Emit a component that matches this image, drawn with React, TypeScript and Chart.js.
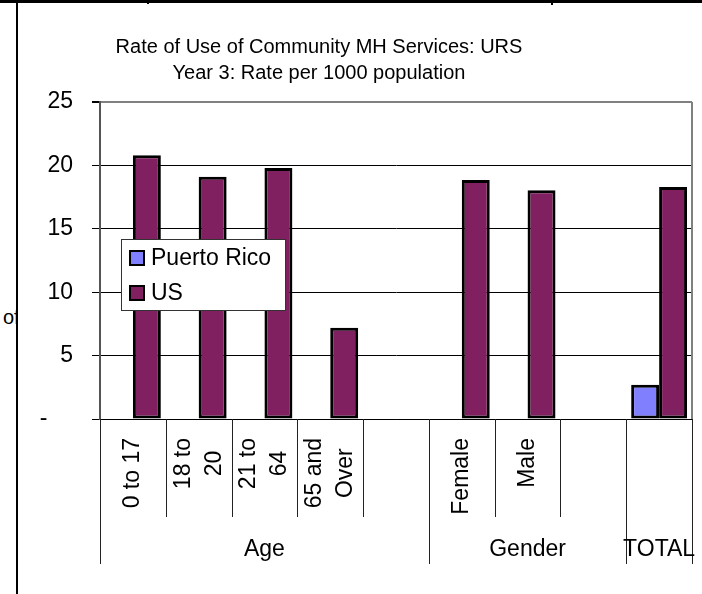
import React, { useEffect, useRef } from 'react';
import { Chart, registerables } from 'chart.js';

Chart.register(...registerables);

// ---- data ----
const categories = ['0 to 17', '18 to 20', '21 to 64', '65 and Over', '', 'Female', 'Male', '', 'TOTAL'];
const categoryLines: string[][] = [['0 to 17'], ['18 to', '20'], ['21 to', '64'], ['65 and', 'Over'], [], ['Female'], ['Male'], [], []];
const groupLabels = ['Age', 'Gender', 'TOTAL'];
const groupSizes = [5, 3, 1];
const seriesNames = ['Puerto Rico', 'US'];
const puertoRico = [null, null, null, null, null, null, null, null, 2.7];
const us = [20.8, 19.1, 19.8, 7.2, null, 18.85, 18.05, null, 18.3];
const yTickValues = [0, 5, 10, 15, 20, 25];
const titleLines = ['Rate of Use of Community MH Services: URS', 'Year 3: Rate per 1000 population'];

const FONT = '"Liberation Sans", Arial, sans-serif';
const PR_COLOR = '#8080FF';
const US_COLOR = '#802060';

const decorPlugin = {
  id: 'decor',
  afterDraw(chart: any) {
    const ctx: CanvasRenderingContext2D = chart.ctx;
    const area = chart.chartArea;
    const xs = chart.scales.x;
    const n = categories.length;
    const w = (area.right - area.left) / n;

    ctx.save();
    // right border of plot area
    ctx.strokeStyle = '#808080';
    ctx.lineWidth = 2;
    ctx.beginPath();
    ctx.moveTo(area.right, area.top);
    ctx.lineTo(area.right, area.bottom);
    ctx.stroke();

    // separators below the axis
    const groupBounds = new Set<number>();
    let acc = 0;
    groupBounds.add(0);
    groupSizes.forEach((s) => { acc += s; groupBounds.add(acc); });
    ctx.strokeStyle = '#222';
    ctx.lineWidth = 1;
    for (let i = 0; i <= n; i++) {
      const x = Math.round(i < n ? xs.getPixelForValue(i) - w / 2 : xs.getPixelForValue(n - 1) + w / 2) + 0.5;
      const yEnd = groupBounds.has(i) ? area.bottom + 145 : area.bottom + 98;
      ctx.beginPath();
      ctx.moveTo(x, area.bottom);
      ctx.lineTo(x, yEnd);
      ctx.stroke();
    }

    // category labels (rotated)
    ctx.fillStyle = '#000';
    ctx.font = `23px ${FONT}`;
    categoryLines.forEach((lines, i) => {
      if (!lines.length) return;
      const cx = xs.getPixelForValue(i);
      const maxW = Math.max(...lines.map((l) => ctx.measureText(l).width));
      ctx.save();
      ctx.translate(cx, area.bottom + 19);
      ctx.rotate(-Math.PI / 2);
      ctx.textAlign = 'center';
      ctx.textBaseline = 'middle';
      lines.forEach((l, j) => {
        ctx.fillText(l, -maxW / 2, (j - (lines.length - 1) / 2) * 31);
      });
      ctx.restore();
    });

    // group labels
    ctx.textAlign = 'center';
    ctx.textBaseline = 'middle';
    let start = 0;
    groupLabels.forEach((g, gi) => {
      const end = start + groupSizes[gi] - 1;
      const cx = (xs.getPixelForValue(start) + xs.getPixelForValue(end)) / 2;
      ctx.fillText(g, cx, area.bottom + 131);
      start = end + 1;
    });

    // title
    ctx.font = `20px ${FONT}`;
    titleLines.forEach((t, i) => {
      ctx.fillText(t, 319, 47 + i * 26);
    });

    // legend
    const lx = area.left + 21;
    const ly = area.top + 137;
    ctx.fillStyle = '#fff';
    ctx.fillRect(lx, ly, 164, 71);
    ctx.strokeStyle = '#333';
    ctx.lineWidth = 1;
    ctx.strokeRect(lx + 0.5, ly + 0.5, 164, 71);
    const colors = [PR_COLOR, US_COLOR];
    ctx.font = `23px ${FONT}`;
    ctx.textAlign = 'left';
    seriesNames.forEach((name, i) => {
      const cy = ly + 19 + i * 35;
      ctx.fillStyle = colors[i];
      ctx.fillRect(lx + 8, cy - 8, 16, 16);
      ctx.strokeStyle = '#000';
      ctx.lineWidth = 2;
      ctx.strokeRect(lx + 9, cy - 7, 14, 14);
      ctx.fillStyle = '#000';
      ctx.fillText(name, lx + 30, cy + 1);
    });
    ctx.restore();
  },
};

export default function App() {
  const ref = useRef<HTMLCanvasElement | null>(null);

  useEffect(() => {
    if (!ref.current) return;
    const chart = new Chart(ref.current, {
      type: 'bar',
      data: {
        labels: categories,
        datasets: [
          {
            label: seriesNames[0],
            data: puertoRico as any,
            backgroundColor: PR_COLOR,
            borderColor: '#000',
            borderWidth: 3,
            borderSkipped: false,
            categoryPercentage: 0.85,
            barPercentage: 1,
          },
          {
            label: seriesNames[1],
            data: us as any,
            backgroundColor: US_COLOR,
            borderColor: '#000',
            borderWidth: 3,
            borderSkipped: false,
            categoryPercentage: 0.85,
            barPercentage: 1,
          },
        ],
      },
      options: {
        animation: false,
        responsive: true,
        maintainAspectRatio: false,
        layout: { padding: { top: 102, right: 10, left: 0, bottom: 0 } },
        plugins: {
          legend: { display: false },
          title: { display: false },
          tooltip: { enabled: false },
        },
        scales: {
          x: {
            grid: { display: false },
            border: { display: true, color: '#000', width: 1 },
            ticks: { display: false },
            afterFit: (s: any) => { s.height = 175; },
          },
          y: {
            min: 0,
            max: 25,
            afterBuildTicks: (s: any) => { s.ticks = yTickValues.map((v) => ({ value: v })); },
            grid: {
              color: (c: any) => (c.tick && c.tick.value === 25 ? '#808080' : '#000'),
              lineWidth: (c: any) => (c.tick && c.tick.value === 25 ? 2 : 1),
              tickColor: '#000',
              tickLength: 8,
              drawTicks: true,
            },
            border: { display: true, color: '#555', width: 2 },
            ticks: {
              color: '#000',
              font: { size: 23, family: FONT },
              padding: 19,
              callback: (v: any) => (Number(v) === 0 ? '-    ' : String(v)),
            },
            afterFit: (s: any) => { s.width = 100; },
          },
        },
      },
      plugins: [decorPlugin],
    });
    return () => chart.destroy();
  }, []);

  return (
    <div style={{ position: 'absolute', left: 0, top: 0, width: 702, height: 594, background: '#fff', overflow: 'hidden' }}>
      <div style={{ position: 'absolute', left: 0, top: 0, width: 702, height: 3, background: '#000' }} />
      <div style={{ position: 'absolute', left: 147, top: 0, width: 2, height: 4, background: '#000' }} />
      <div style={{ position: 'absolute', left: 551, top: 0, width: 2, height: 5, background: '#000' }} />
      <div style={{ position: 'absolute', left: 16, top: 3, width: 2, height: 591, background: '#000' }} />
      <div
        style={{
          position: 'absolute', left: 3, top: 305, width: 14, height: 24, overflow: 'hidden',
          whiteSpace: 'nowrap', fontFamily: FONT, fontSize: 20, lineHeight: '24px', color: '#000',
        }}
      >
        of
      </div>
      <canvas ref={ref} style={{ position: 'absolute', left: 0, top: 0, width: 702, height: 594 }} />
    </div>
  );
}
